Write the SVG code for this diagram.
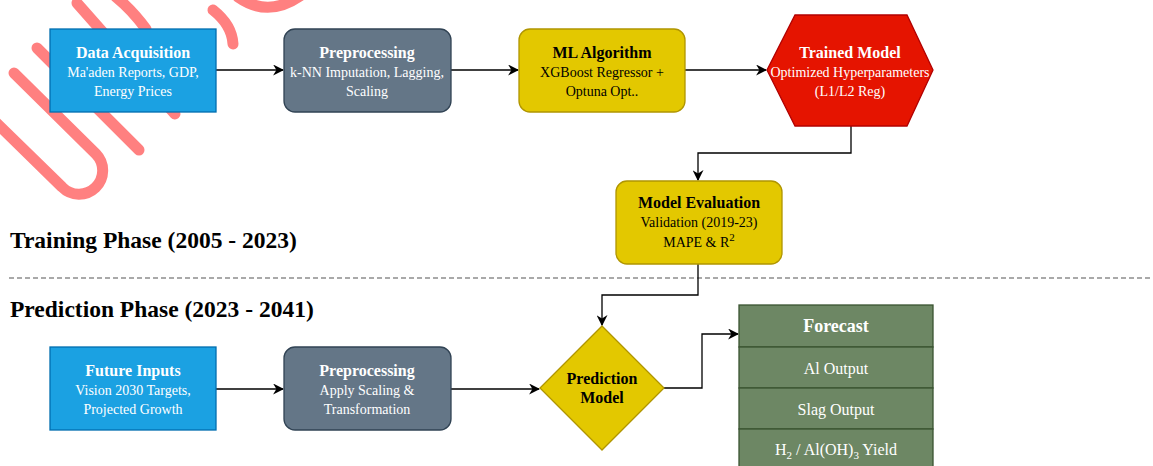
<svg xmlns="http://www.w3.org/2000/svg" width="1153" height="466" viewBox="0 0 1153 466">
<style>
text{font-family:"Liberation Serif","Times New Roman",serif;text-anchor:middle}
.t{font-weight:bold;font-size:16px}
.s{font-size:14px}
.w{fill:#ffffff}
.k{fill:#000000}
.blue{fill:#1ba1e2;stroke:#006eaf;stroke-width:1.3}
.slate{fill:#647687;stroke:#314354;stroke-width:1.3}
.yel{fill:#e3c800;stroke:#b09500;stroke-width:1.3}
.red{fill:#e51400;stroke:#b20000;stroke-width:1.3}
.grn{fill:#6d8764;stroke:#3a5431;stroke-width:1.3}
.edge{fill:none;stroke:#000;stroke-width:1.3;marker-end:url(#arr)}
.phase{font-weight:bold;font-size:23.5px;text-anchor:start;fill:#000}
.wm{fill:none;stroke:#ff8080;stroke-width:11;stroke-linecap:round}
</style>
<defs>
<marker id="arr" viewBox="0 0 10 10" refX="9" refY="5" markerWidth="11" markerHeight="11" markerUnits="userSpaceOnUse" orient="auto">
<path d="M0,0 L10,5 L0,10 L3,5 Z" fill="#000"/>
</marker>
</defs>
<rect width="1153" height="466" fill="#ffffff"/>
<g id="watermark">
<path class="wm" d="M14,73 L96,154 A23.5,23.5 0 0 1 62,187 L-25,102"/>
<path class="wm" d="M37,48 L139,150"/>
<path class="wm" d="M77,3 L175,114"/>
<path class="wm" d="M116,-3 Q132,10 146,29"/>
<path class="wm" d="M213,10 Q232,25 233,44"/>
<path class="wm" d="M238,-3 Q268,18 300,-4"/>
</g>
<g id="divider">
<line x1="9" y1="278" x2="1153" y2="278" stroke="#555" stroke-width="1.2" stroke-dasharray="5,3"/>
<text class="phase" x="10" y="248">Training Phase (2005 - 2023)</text>
<text class="phase" x="10" y="317">Prediction Phase (2023 - 2041)</text>
</g>
<g id="connectors">
<path class="edge" d="M216,70 L283,70"/>
<path class="edge" d="M451,70 L518,70"/>
<path class="edge" d="M685,70 L766,70"/>
<path class="edge" d="M851,126 L851,153 L698,153 L698,180"/>
<path class="edge" d="M698,264 L698,295 L602,295 L602,325"/>
<path class="edge" d="M216,389 L283,389"/>
<path class="edge" d="M451,389 L539,389"/>
<path class="edge" d="M664,388 L702,388 L702,334 L738,334"/>
</g>
<g id="data-acquisition">
<rect class="blue" x="50" y="29" width="166" height="83"/>
<text class="t w" x="133" y="58">Data Acquisition</text>
<text class="s w" x="133" y="77">Ma'aden Reports, GDP,</text>
<text class="s w" x="133" y="96">Energy Prices</text>
</g>
<g id="preprocessing-train">
<rect class="slate" x="284" y="29" width="167" height="83" rx="11"/>
<text class="t w" x="367" y="58">Preprocessing</text>
<text class="s w" x="367" y="77">k-NN Imputation, Lagging,</text>
<text class="s w" x="367" y="96">Scaling</text>
</g>
<g id="ml-algorithm">
<rect class="yel" x="519" y="29" width="166" height="83" rx="11"/>
<text class="t k" x="602" y="58">ML Algorithm</text>
<text class="s k" x="602" y="77">XGBoost Regressor +</text>
<text class="s k" x="602" y="96">Optuna Opt..</text>
</g>
<g id="trained-model">
<polygon class="red" points="795,15 907,15 933,70 907,126 795,126 767,70"/>
<text class="t w" x="850" y="58">Trained Model</text>
<text class="s w" x="850" y="77" font-size="13.7px">Optimized Hyperparameters</text>
<text class="s w" x="850" y="96">(L1/L2 Reg)</text>
</g>
<g id="model-evaluation">
<rect class="yel" x="616" y="181" width="166" height="83" rx="11"/>
<text class="t k" x="699" y="208">Model Evaluation</text>
<text class="s k" x="699" y="227">Validation (2019-23)</text>
<text class="s k" x="699" y="247">MAPE &amp; R<tspan font-size="11px" dy="-6">2</tspan></text>
</g>
<g id="future-inputs">
<rect class="blue" x="50" y="347" width="166" height="83"/>
<text class="t w" x="133" y="376">Future Inputs</text>
<text class="s w" x="133" y="395">Vision 2030 Targets,</text>
<text class="s w" x="133" y="414">Projected Growth</text>
</g>
<g id="preprocessing-predict">
<rect class="slate" x="284" y="347" width="167" height="83" rx="11"/>
<text class="t w" x="367" y="376">Preprocessing</text>
<text class="s w" x="367" y="395">Apply Scaling &amp;</text>
<text class="s w" x="367" y="414">Transformation</text>
</g>
<g id="prediction-model">
<polygon class="yel" points="602,326 664,388 602,450 540,388"/>
<text class="t k" x="602" y="384">Prediction</text>
<text class="t k" x="602" y="403">Model</text>
</g>
<g id="forecast">
<rect class="grn" x="739" y="305" width="194" height="42"/>
<rect class="grn" x="739" y="347" width="194" height="41"/>
<rect class="grn" x="739" y="388" width="194" height="41"/>
<rect class="grn" x="739" y="429" width="194" height="41"/>
<text class="w" x="836" y="332" font-weight="bold" font-size="18px">Forecast</text>
<text class="w" x="836" y="374" font-size="16px">Al Output</text>
<text class="w" x="836" y="415" font-size="16px">Slag Output</text>
<text class="w" x="836" y="455" font-size="16px">H<tspan font-size="11px" dy="4">2</tspan><tspan dy="-4"> / Al(OH)</tspan><tspan font-size="11px" dy="4">3</tspan><tspan dy="-4"> Yield</tspan></text>
</g>
</svg>
